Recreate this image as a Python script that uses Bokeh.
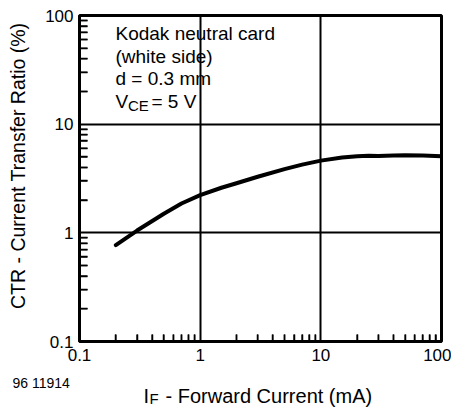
import math
from bokeh.plotting import figure
from bokeh.models import FixedTicker, Label, Range1d
from bokeh.layouts import column, row
from bokeh.core.properties import value
from bokeh.embed import file_html
from bokeh.resources import INLINE

# ---- data ----
forward_current_mA = [0.2, 0.3, 0.5, 0.7, 1.0, 1.5, 2.0, 3.0, 5.0, 7.0, 10.0, 15.0, 20.0, 25.0, 30.0, 40.0, 50.0, 70.0, 100.0]
ctr_percent = [0.77, 1.05, 1.5, 1.86, 2.22, 2.6, 2.86, 3.28, 3.86, 4.24, 4.62, 4.93, 5.07, 5.13, 5.1, 5.14, 5.17, 5.15, 5.08]
x_major = [0.1, 1, 10, 100]
y_major = [0.1, 1, 10, 100]
x_tick_labels = {0.1: "0.1", 1: "1", 10: "10", 100: "100"}
y_tick_labels = {0.1: "0.1", 1: "1", 10: "10", 100: "100"}
minor_mult = [2, 3, 4, 5, 6, 7, 8, 9]
y_title = "CTR - Current Transfer Ratio (%)"
x_title_main = "I"
x_title_sub = "F"
x_title_rest = "- Forward Current (mA)"
figure_id = "96 11914"
note_lines = ["Kodak neutral card", "(white side)", "d = 0.3 mm"]

FONT = "Liberation Sans"

LEFT_W = 34
MAIN_W, MAIN_H = 417, 371
BOTTOM_H = 36

X_MIN, X_MAX = 0.1, 100
Y_MIN, Y_MAX = 0.1, 100

p = figure(width=MAIN_W, height=MAIN_H, x_axis_type="log", y_axis_type="log",
           x_range=Range1d(X_MIN, X_MAX), y_range=Range1d(Y_MIN, Y_MAX),
           output_backend="svg", toolbar_location=None,
           min_border_left=45, min_border_right=10, min_border_top=15, min_border_bottom=30)

x_minor = [m * 10 ** e for e in (-1, 0, 1) for m in minor_mult]
y_minor = [m * 10 ** e for e in (-1, 0, 1) for m in minor_mult]
p.xaxis.ticker = FixedTicker(ticks=x_major, minor_ticks=x_minor)
p.yaxis.ticker = FixedTicker(ticks=y_major, minor_ticks=y_minor)
p.xaxis.major_label_overrides = x_tick_labels
p.yaxis.major_label_overrides = y_tick_labels

for ax in (p.xaxis[0], p.yaxis[0]):
    ax.axis_line_width = 3
    ax.axis_line_color = "black"
    ax.major_tick_in = 0
    ax.major_tick_out = 0
    ax.minor_tick_out = 0
    ax.minor_tick_line_color = "black"
    ax.minor_tick_line_width = 1.5
    ax.major_label_text_font = FONT
    ax.major_label_text_font_size = "17px"
    ax.major_label_text_color = "black"
p.yaxis.minor_tick_in = 8
p.xaxis.minor_tick_in = 7
p.yaxis.major_label_standoff = 6
p.xaxis.major_label_standoff = 7

p.xgrid.grid_line_color = "black"
p.ygrid.grid_line_color = "black"
p.xgrid.grid_line_width = 2
p.ygrid.grid_line_width = 2
p.outline_line_color = "black"
p.outline_line_width = 3

# --- helpers: picture pixel -> data coordinate (for text / tick length placement) ---
FX0, FX1 = 79, 441
FY0, FY1 = 15, 341
def dx(px):
    return 10 ** (-1 + 3 * (px - FX0) / (FX1 - FX0))
def dy(py):
    return 10 ** (2 - 3 * (py - FY0) / (FY1 - FY0))

# inward minor ticks drawn as a multi_line (same path type as the curve)
tick_xs = [[X_MIN, dx(FX0 + 8)] for _ in y_minor] + [[xv, xv] for xv in x_minor]
tick_ys = [[yv, yv] for yv in y_minor] + [[Y_MIN, dy(FY1 - 7)] for _ in x_minor]
p.multi_line(xs=tick_xs, ys=tick_ys, line_color="black", line_width=1.5)

p.line(forward_current_mA, ctr_percent, line_color="black", line_width=4,
       line_join="round", line_cap="round")

def add_label(txt, px, py, size="19px"):
    p.add_layout(Label(x=dx(px), y=dy(py), text=txt, text_font=FONT, text_font_size=size,
                       text_color="black", text_align="left", text_baseline="alphabetic"))

for i, line in enumerate(note_lines):
    add_label(line, 115, 33 + 22.5 * i)
add_label("V", 115, 100.5)
add_label("CE", 127.5, 105, size="15px")
add_label("= 5 V", 151, 100.5)

# --- left strip: rotated y title ---
left = figure(width=LEFT_W, height=MAIN_H, x_range=Range1d(0, LEFT_W), y_range=Range1d(MAIN_H, 0),
              output_backend="svg", toolbar_location=None,
              min_border=0, x_axis_location=None, y_axis_location=None)
left.outline_line_color = None
left.grid.visible = False
left.text(x=[17], y=[171], text=[y_title], angle=math.pi / 2, text_font=value(FONT),
          text_font_size="19.5px", text_color="black", text_align="center", text_baseline="middle")

# --- bottom strip: x title and figure id ---
BW = LEFT_W + MAIN_W
bottom = figure(width=BW, height=BOTTOM_H, x_range=Range1d(0, BW), y_range=Range1d(BOTTOM_H, 0),
                output_backend="svg", toolbar_location=None,
                min_border=0, x_axis_location=None, y_axis_location=None)
bottom.outline_line_color = None
bottom.grid.visible = False
Y0 = MAIN_H
bottom.text(x=[143], y=[395 - Y0], text=[x_title_main], text_font=value(FONT), text_font_size="20px",
            text_color="black", text_align="left", text_baseline="alphabetic")
bottom.text(x=[149], y=[398 - Y0], text=[x_title_sub], text_font=value(FONT), text_font_size="15px",
            text_color="black", text_align="left", text_baseline="alphabetic")
bottom.text(x=[165], y=[395 - Y0], text=[x_title_rest], text_font=value(FONT), text_font_size="20px",
            text_color="black", text_align="left", text_baseline="alphabetic")
bottom.text(x=[12], y=[382 - Y0], text=[figure_id], text_font=value(FONT), text_font_size="14px",
            text_color="black", text_align="left", text_baseline="alphabetic")

layout = column(row(left, p), bottom)
open("out.html", "w").write(file_html(layout, INLINE))
